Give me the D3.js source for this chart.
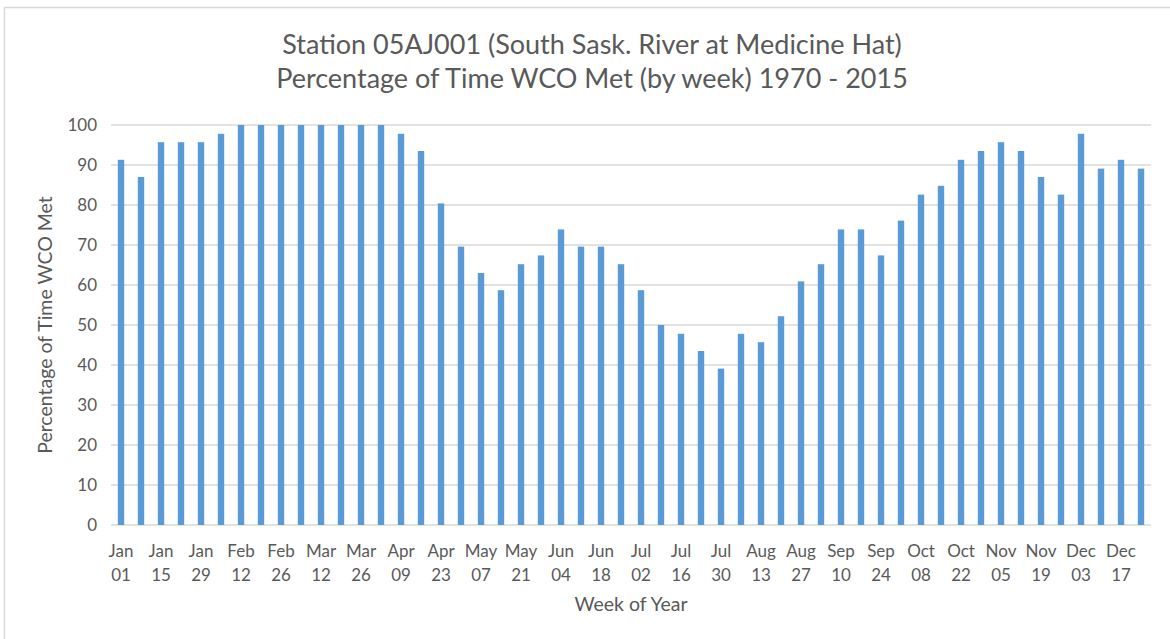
<!DOCTYPE html>
<html>
<head>
<meta charset="utf-8">
<script src="https://cdn.jsdelivr.net/npm/d3@7"></script>
<style>
  body { margin: 0; background: #fff; }
  text { font-family: Lato, "Open Sans", sans-serif; fill: #595959; }
</style>
</head>
<body>
<div id="chart"></div>
<script>
const titleLines = ["Station 05AJ001 (South Sask. River at Medicine Hat)",
  "Percentage of Time WCO Met (by week) 1970 - 2015"];

// week start labels (month, day), one per bar
const weekMonths = [
  "Jan","Jan","Jan","Jan","Jan",
  "Feb","Feb","Feb","Feb",
  "Mar","Mar","Mar","Mar",
  "Apr","Apr","Apr","Apr","Apr",
  "May","May","May","May",
  "Jun","Jun","Jun","Jun",
  "Jul","Jul","Jul","Jul","Jul",
  "Aug","Aug","Aug","Aug",
  "Sep","Sep","Sep","Sep",
  "Oct","Oct","Oct","Oct","Oct",
  "Nov","Nov","Nov","Nov",
  "Dec","Dec","Dec","Dec"];
const weekDays = [
  "01","08","15","22","29",
  "05","12","19","26",
  "05","12","19","26",
  "02","09","16","23","30",
  "07","14","21","28",
  "04","11","18","25",
  "02","09","16","23","30",
  "06","13","20","27",
  "03","10","17","24",
  "01","08","15","22","29",
  "05","12","19","26",
  "03","10","17","24"];

// percentage of time WCO met, per week
const pctMet = [91.3, 87.0, 95.7, 95.7, 95.7, 97.8, 100, 100, 100, 100, 100, 100, 100,
  100, 97.8, 93.5, 80.4, 69.6, 63.0, 58.7, 65.2, 67.4, 73.9, 69.6, 69.6, 65.2,
  58.7, 50.0, 47.8, 43.5, 39.1, 47.8, 45.7, 52.2, 60.9, 65.2, 73.9, 73.9, 67.4,
  76.1, 82.6, 84.8, 91.3, 93.5, 95.7, 93.5, 87.0, 82.6, 97.8, 89.1, 91.3, 89.1];

const yTicks = [0, 10, 20, 30, 40, 50, 60, 70, 80, 90, 100];

const data = pctMet.map((v, i) => ({ i: i, value: v }));

const W = 1170, H = 639;
const plot = { left: 111, right: 1151, top: 125, bottom: 525 };

const svg = d3.select("#chart").append("svg")
  .attr("width", W)
  .attr("height", H);

// chart frame
svg.append("rect")
  .attr("x", 4.5).attr("y", 7.5)
  .attr("width", W + 10).attr("height", H + 10)
  .attr("fill", "none")
  .attr("stroke", "#d9d9d9")
  .attr("stroke-width", 1.5);

const xScale = d3.scaleBand()
  .domain(data.map(d => d.i))
  .range([plot.left, plot.right])
  .paddingInner(0.68)
  .paddingOuter(0.34);

const yScale = d3.scaleLinear().domain([0, 100]).range([plot.bottom, plot.top]);

// gridlines
svg.append("g")
  .selectAll("line")
  .data(yTicks)
  .join("line")
  .attr("x1", plot.left).attr("x2", plot.right)
  .attr("y1", d => yScale(d)).attr("y2", d => yScale(d))
  .attr("stroke", "#d9d9d9")
  .attr("stroke-width", 1.3);

// y axis labels
const yAxis = svg.append("g")
  .attr("transform", `translate(${plot.left - 14}, 0)`)
  .call(d3.axisLeft(yScale).tickValues(yTicks).tickSize(0).tickPadding(0));
yAxis.select(".domain").remove();
yAxis.selectAll("text")
  .style("font-size", "17px")
  .style("fill", "#595959")
  .style("font-family", "Lato, 'Open Sans', sans-serif");

// bars
svg.append("g")
  .selectAll("rect")
  .data(data)
  .join("rect")
  .attr("x", d => xScale(d.i))
  .attr("width", xScale.bandwidth())
  .attr("y", d => yScale(d.value))
  .attr("height", d => yScale(0) - yScale(d.value))
  .attr("fill", "#5b9bd5");

// x axis labels, every second week, two lines
const xAxis = svg.append("g")
  .attr("transform", `translate(0, ${plot.bottom})`)
  .call(d3.axisBottom(xScale)
    .tickValues(data.filter(d => d.i % 2 === 0).map(d => d.i))
    .tickSize(0)
    .tickFormat(""));
xAxis.select(".domain").remove();
xAxis.selectAll(".tick").each(function(i) {
  const t = d3.select(this).append("text")
    .attr("text-anchor", "middle")
    .style("font-size", "17px");
  t.append("tspan").attr("x", 0).attr("y", 32).text(weekMonths[i]);
  t.append("tspan").attr("x", 0).attr("y", 56).text(weekDays[i]);
});

// titles
svg.append("g")
  .selectAll("text")
  .data(titleLines)
  .join("text")
  .attr("x", 592)
  .attr("y", (d, i) => 54 + i * 34)
  .attr("text-anchor", "middle")
  .style("font-size", "27px")
  .text(d => d);

svg.append("text")
  .attr("x", (plot.left + plot.right) / 2)
  .attr("y", 611)
  .attr("text-anchor", "middle")
  .style("font-size", "19.5px")
  .text("Week of Year");

svg.append("text")
  .attr("transform", `translate(52, ${(plot.top + plot.bottom) / 2}) rotate(-90)`)
  .attr("text-anchor", "middle")
  .style("font-size", "19.5px")
  .text("Percentage of Time WCO Met");
</script>
</body>
</html>
